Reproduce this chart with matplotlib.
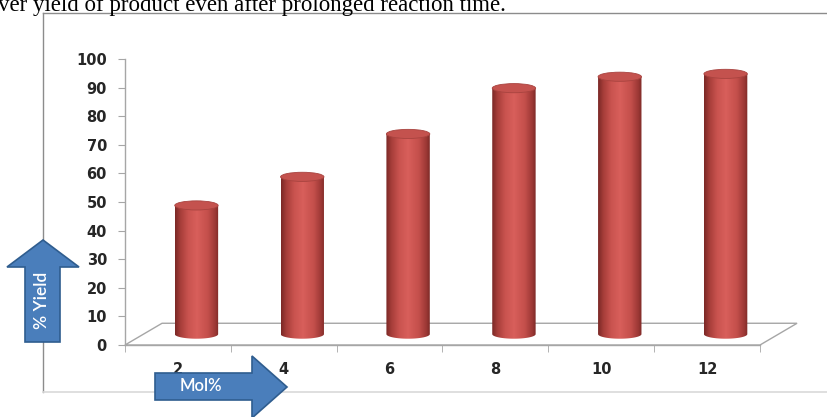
import numpy as np
import matplotlib
matplotlib.use('Agg')
import matplotlib.pyplot as plt
from matplotlib.patches import Ellipse, PathPatch, Polygon
from matplotlib.path import Path
from matplotlib.colors import LinearSegmentedColormap

mol_pct = ['2', '4', '6', '8', '10', '12']
yield_pct = [45, 55, 70, 86, 90, 91]
y_ticks = list(range(0, 101, 10))
x_label = 'Mol%'
y_label = '% Yield'
doc_line = 'ver yield of product even after prolonged reaction time.'

W, H = 828, 417
fig = plt.figure(figsize=(W / 100, H / 100), dpi=100)


def fx(x):
    return x / W


def fy(y):
    return 1 - y / H


# frame of the embedded chart
fig.lines.append(plt.Line2D([fx(43), fx(43)], [fy(13), fy(392)], transform=fig.transFigure, color='#8c8c8c', lw=1, zorder=0.5))
fig.lines.append(plt.Line2D([fx(43), fx(830)], [fy(13), fy(13)], transform=fig.transFigure, color='#8c8c8c', lw=1, zorder=0.5))
fig.lines.append(plt.Line2D([fx(43), fx(830)], [fy(392), fy(392)], transform=fig.transFigure, color='#d9d9d9', lw=1.2, zorder=0.5))

fig.text(fx(-2), fy(11), doc_line, family='Liberation Serif', fontsize=16.5, va='baseline', ha='left')

ax = fig.add_axes([fx(125), fy(345), (760 - 125) / W, (345 - 59) / H])
ax.patch.set_visible(False)

n = len(mol_pct)
xs = np.arange(n)
depth_dx, depth_dy = 0.35, 7.6  # oblique depth of the floor, data units

# floor
floor = Polygon([(-0.5, 0), (-0.5 + depth_dx, depth_dy), (n - 0.5 + depth_dx, depth_dy), (n - 0.5, 0)],
                closed=True, fill=False, edgecolor='#a6a6a6', lw=1, clip_on=False, zorder=1)
ax.add_patch(floor)

cmap = LinearSegmentedColormap.from_list('cyl', [
    (0.0, '#7a2826'), (0.12, '#a63d39'), (0.3, '#c9534f'), (0.5, '#d85f5b'),
    (0.75, '#c44f4b'), (0.92, '#9c3835'), (1.0, '#7e2a28')])
grad = np.linspace(0, 1, 200).reshape(1, -1)

r = 0.205
eh = 3.2
base = depth_dy / 2
for x, v in zip(xs, yield_pct):
    cx = x + depth_dx / 2
    top = base + v
    t = np.linspace(np.pi, 2 * np.pi, 40)
    lower = np.column_stack([cx + r * np.cos(t), base + eh / 2 * np.sin(t)])
    verts = np.vstack([[cx - r, top], lower, [cx + r, top], [cx - r, top]])
    codes = [Path.MOVETO] + [Path.LINETO] * (len(verts) - 2) + [Path.CLOSEPOLY]
    body = PathPatch(Path(verts, codes), facecolor='none', edgecolor='none', zorder=2)
    ax.add_patch(body)
    im = ax.imshow(grad, cmap=cmap, extent=[cx - r, cx + r, base - eh, top], aspect='auto',
                   zorder=2, interpolation='bilinear')
    im.set_clip_path(body)
    ax.add_patch(Ellipse((cx, top), 2 * r, eh, facecolor='#c4524e', edgecolor='#a8433f', lw=0.6, zorder=3))

ax.set_xlim(-0.5, n - 0.5)
ax.set_ylim(0, 100)

for s in ['top', 'right']:
    ax.spines[s].set_visible(False)
for s in ['left', 'bottom']:
    ax.spines[s].set_color('#a6a6a6')
    ax.spines[s].set_linewidth(1)

ax.set_yticks(y_ticks)
ax.tick_params(axis='y', direction='out', length=5, color='#a6a6a6', pad=8,
               labelsize=10.5, labelcolor='#262626')
ax.set_xticks(xs)
ax.set_xticklabels(mol_pct)
ax.set_xticks(np.arange(n + 1) - 0.5, minor=True)
ax.tick_params(axis='x', which='major', length=0, pad=12, labelsize=10.5, labelcolor='#262626')
ax.tick_params(axis='x', which='minor', direction='out', length=5, color='#a6a6a6')
for lab in ax.get_xticklabels() + ax.get_yticklabels():
    lab.set_fontweight('bold')

# arrow labels
blue, blue_edge = '#4a7ebb', '#2f5d8f'
up = [(25, 342), (25, 267), (7, 267), (43, 240), (79, 267), (60, 267), (60, 342)]
fig.patches.append(Polygon([(fx(a), fy(b)) for a, b in up], closed=True, transform=fig.transFigure,
                           facecolor=blue, edgecolor=blue_edge, lw=1.2, zorder=3))
fig.text(fx(42.5), fy(300), y_label, rotation=90, color='white', fontsize=12.5, family='Lato',
         fontweight='semibold', ha='center', va='center', zorder=4)

right = [(155, 373), (252, 373), (252, 356), (287, 387), (252, 418), (252, 400), (155, 400)]
fig.patches.append(Polygon([(fx(a), fy(b)) for a, b in right], closed=True, transform=fig.transFigure,
                           facecolor=blue, edgecolor=blue_edge, lw=1.2, zorder=3))
fig.text(fx(201), fy(386), x_label, color='white', fontsize=12, family='Lato',
         fontweight='semibold', ha='center', va='center', zorder=4)

fig.savefig('out.png', dpi=100)
